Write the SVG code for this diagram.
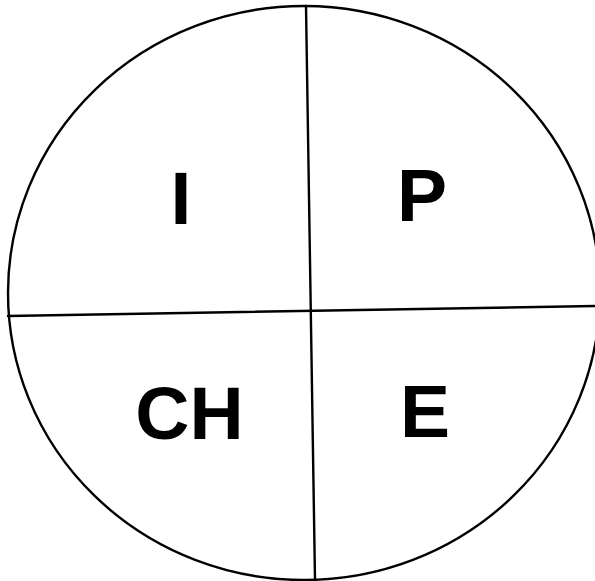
<svg xmlns="http://www.w3.org/2000/svg" width="595" height="581" viewBox="0 0 595 581">
<style>
.ln{fill:none;stroke:#000;stroke-width:2.4;stroke-linecap:round}
.lb{font-family:"Liberation Sans",Arial,sans-serif;font-weight:bold;font-size:75px;fill:#000;text-anchor:middle}
</style>
<rect width="595" height="581" fill="#fff"/>
<g id="circle">
<ellipse class="ln" cx="304" cy="293" rx="296" ry="287"/>
</g>
<g id="connectors">
<line class="ln" x1="306" y1="6" x2="315" y2="580"/>
<line class="ln" x1="8" y1="316" x2="595" y2="306"/>
</g>
<g id="node-I"><text class="lb" x="181" y="224">I</text></g>
<g id="node-P"><text class="lb" x="422" y="221">P</text></g>
<g id="node-CH"><text class="lb" x="189.5" y="439">CH</text></g>
<g id="node-E"><text class="lb" x="425" y="437">E</text></g>
</svg>
